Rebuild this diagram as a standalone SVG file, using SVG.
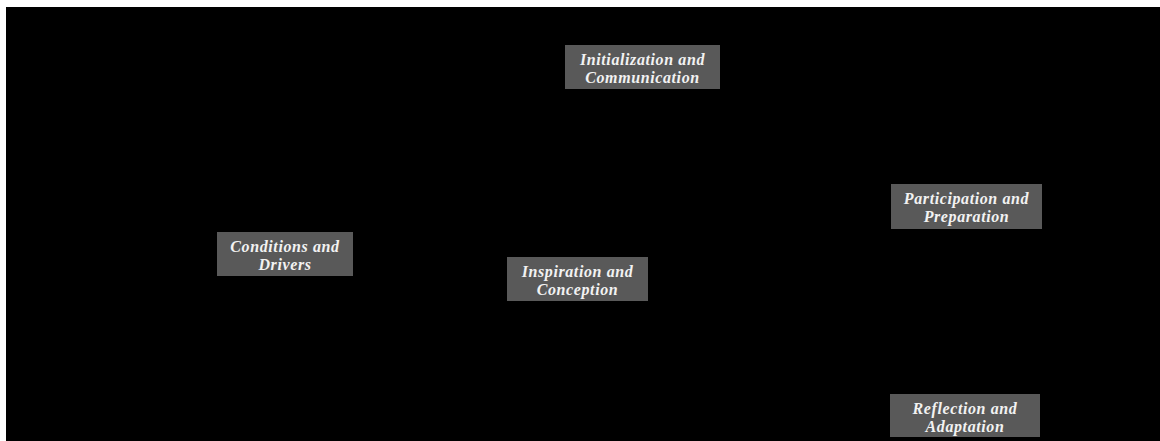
<svg xmlns="http://www.w3.org/2000/svg" width="1160" height="441" viewBox="0 0 1160 441">
<style>
.bg{fill:#000000}
.node rect{fill:#595959;stroke:none}
.node text{font-family:"Liberation Serif","Times New Roman",serif;font-weight:bold;font-style:italic;font-size:16px;letter-spacing:0.6px;fill:#f2f2f2;text-anchor:middle}
</style>
<rect x="0" y="0" width="1160" height="441" fill="#ffffff"/>
<rect class="bg" x="6" y="7" width="1154" height="434"/>
<g id="connectors"></g>
<g id="node-initialization" class="node">
<rect x="565" y="45" width="155" height="44"/>
<text x="642.5" y="65">Initialization and</text>
<text x="642.5" y="83">Communication</text>
</g>
<g id="node-participation" class="node">
<rect x="891" y="184" width="151" height="45"/>
<text x="966.5" y="204">Participation and</text>
<text x="966.5" y="222">Preparation</text>
</g>
<g id="node-conditions" class="node">
<rect x="217" y="232" width="136" height="44"/>
<text x="285" y="252">Conditions and</text>
<text x="285" y="270">Drivers</text>
</g>
<g id="node-inspiration" class="node">
<rect x="507" y="257" width="141" height="44"/>
<text x="577.5" y="277">Inspiration and</text>
<text x="577.5" y="295">Conception</text>
</g>
<g id="node-reflection" class="node">
<rect x="890" y="394" width="150" height="43"/>
<text x="965" y="414">Reflection and</text>
<text x="965" y="432">Adaptation</text>
</g>
</svg>
